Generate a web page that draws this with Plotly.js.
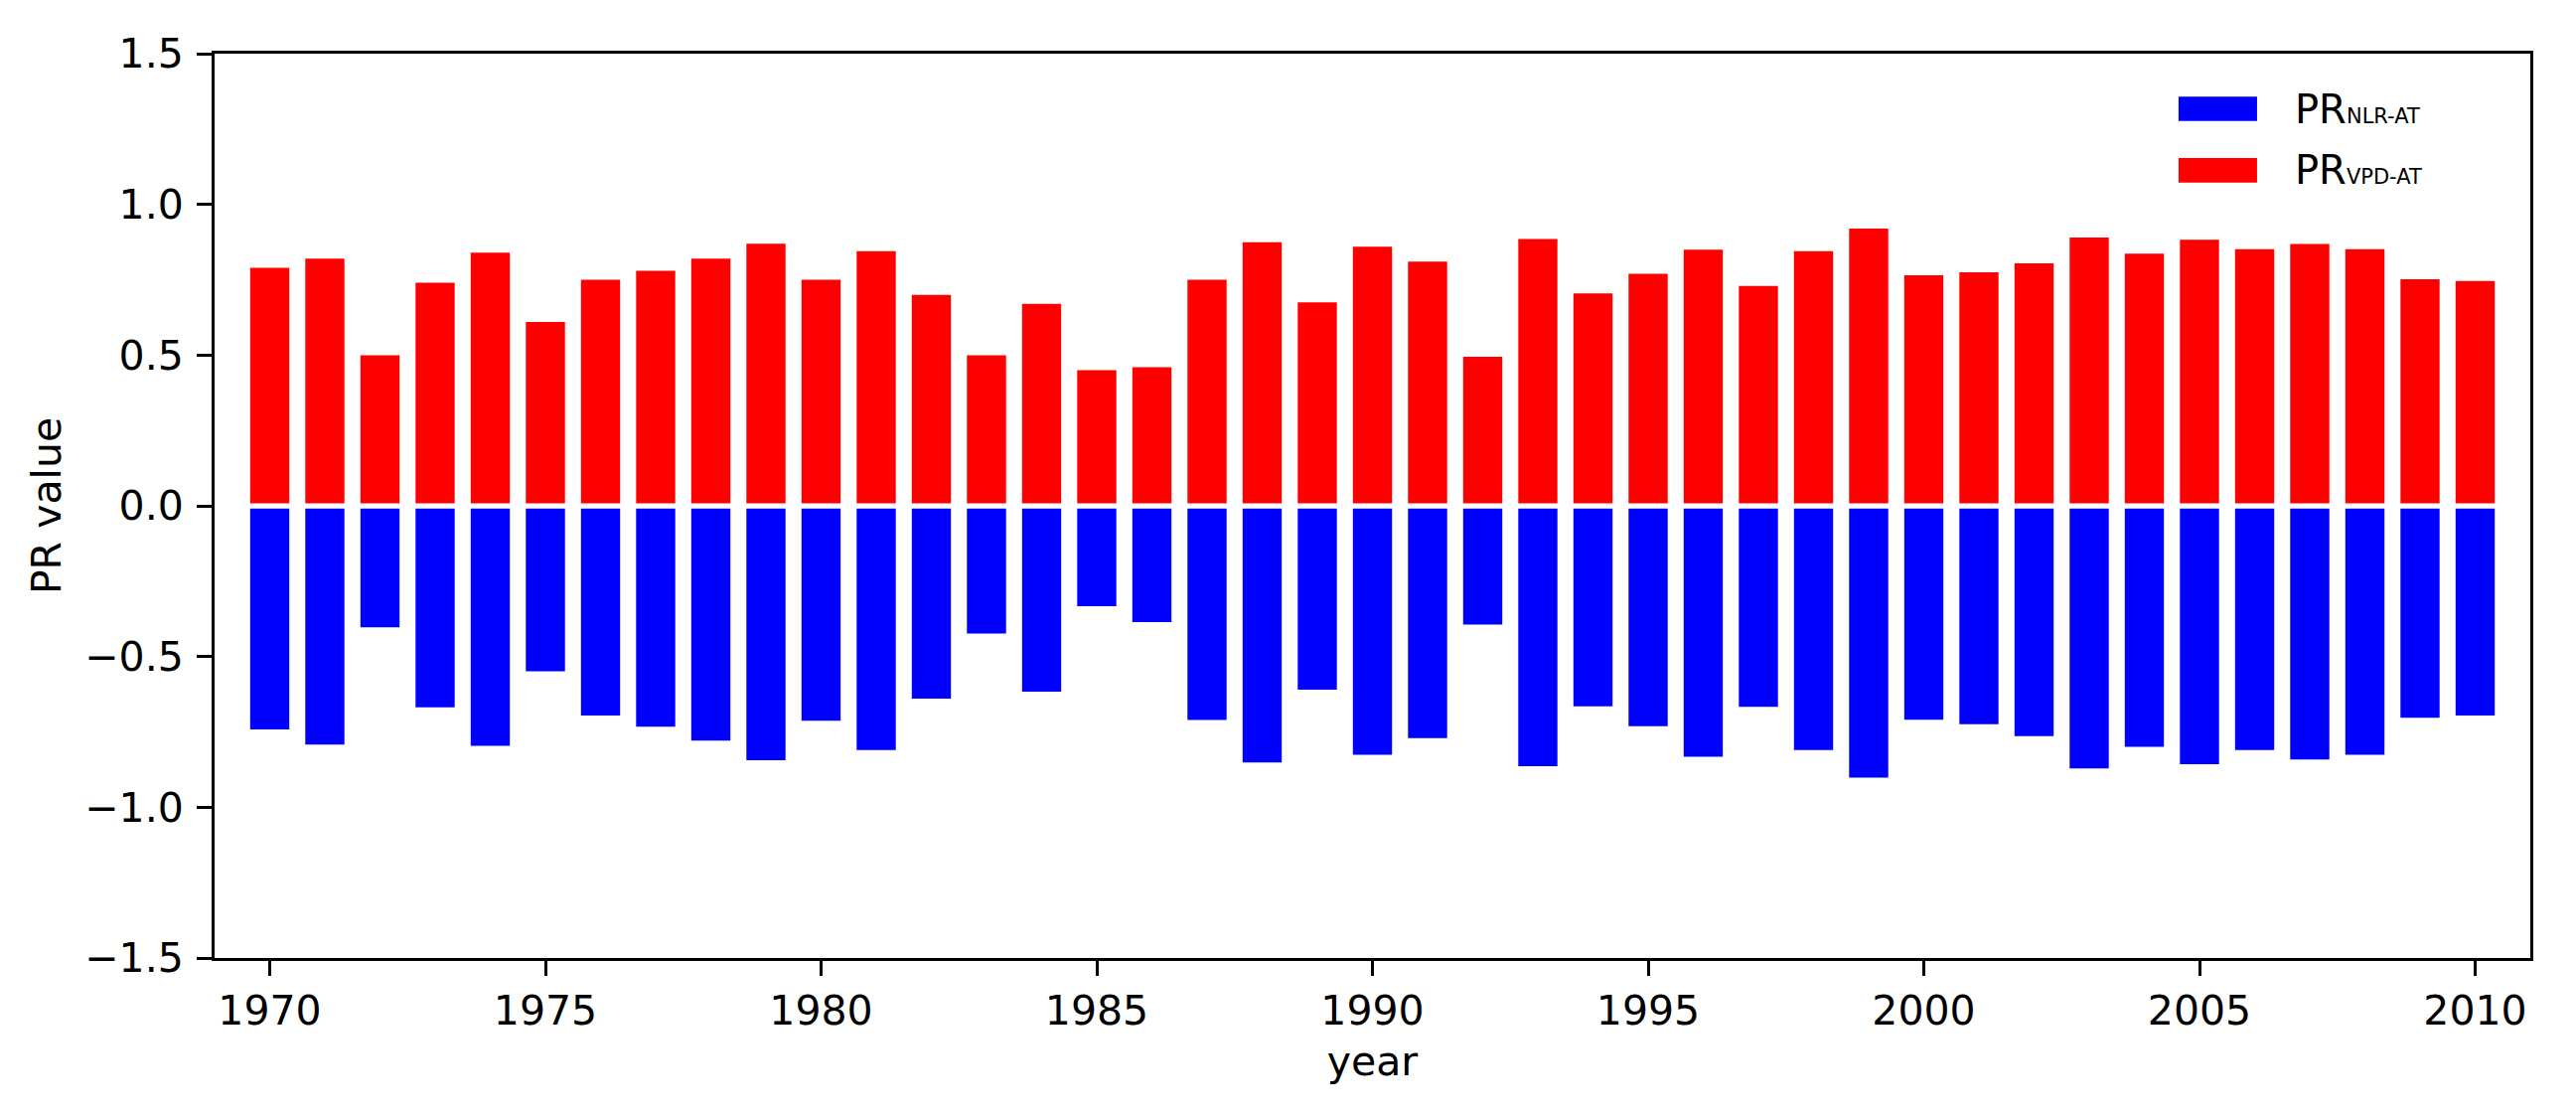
<!DOCTYPE html>
<html>
<head>
<meta charset="utf-8">
<script src="https://cdn.plot.ly/plotly-3.0.1.min.js"></script>
<style>
  html, body { margin: 0; padding: 0; background: #fff; }
  #chart { width: 2593px; height: 1124px; }
</style>
</head>
<body>
<div id="chart"></div>
<script>
// ---- data ----
const years = [1970,1971,1972,1973,1974,1975,1976,1977,1978,1979,
               1980,1981,1982,1983,1984,1985,1986,1987,1988,1989,
               1990,1991,1992,1993,1994,1995,1996,1997,1998,1999,
               2000,2001,2002,2003,2004,2005,2006,2007,2008,2009,2010];

const prVPD = [0.798,0.828,0.508,0.748,0.848,0.618,0.758,0.788,0.828,0.878,
               0.758,0.853,0.708,0.508,0.678,0.458,0.468,0.758,0.883,0.683,
               0.868,0.818,0.503,0.893,0.713,0.778,0.858,0.738,0.853,0.928,
               0.773,0.783,0.813,0.898,0.845,0.891,0.860,0.877,0.860,0.760,0.754];

const prNLR = [-0.750,-0.800,-0.411,-0.677,-0.804,-0.557,-0.704,-0.741,-0.787,-0.852,
               -0.721,-0.818,-0.648,-0.432,-0.625,-0.341,-0.394,-0.719,-0.860,-0.618,
               -0.834,-0.779,-0.402,-0.872,-0.673,-0.739,-0.841,-0.675,-0.818,-0.910,
               -0.718,-0.733,-0.772,-0.879,-0.808,-0.865,-0.818,-0.850,-0.834,-0.711,-0.704];

const xTicks = [1970,1975,1980,1985,1990,1995,2000,2005,2010];
const yTicks = [-1.5,-1.0,-0.5,0.0,0.5,1.0,1.5];
const legendNames = ["NLR-AT", "VPD-AT"];
const colors = ["#0000ff", "#ff0000"];

const FONT = "DejaVu Sans";

const traces = [
  {
    type: "bar", x: years, y: prNLR, name: "PR" + legendNames[0],
    width: 0.8, marker: { color: colors[0], line: { color: "#ffffff", width: 5 } },
    showlegend: false, hoverinfo: "x+y"
  },
  {
    type: "bar", x: years, y: prVPD, name: "PR" + legendNames[1],
    width: 0.8, marker: { color: colors[1], line: { color: "#ffffff", width: 5 } },
    showlegend: false, hoverinfo: "x+y"
  }
];

// custom legend (wide matplotlib-like patches)
const legY = [0.939, 0.871];
const shapes = legY.map((yc, i) => ({
  type: "rect", xref: "paper", yref: "paper",
  x0: 0.8481, x1: 0.882, y0: yc - 0.0135, y1: yc + 0.0135,
  fillcolor: colors[i], line: { width: 0 }
}));
const annotations = legY.map((yc, i) => ({
  xref: "paper", yref: "paper", x: 0.8975, y: yc,
  xanchor: "left", yanchor: "middle", showarrow: false,
  text: "PR<span style='font-size:21px'>" + legendNames[i] + "</span>",
  font: { family: FONT, size: 40, color: "#000" }
}));

const layout = {
  width: 2593, height: 1124,
  margin: { l: 216, r: 46, t: 54, b: 160, pad: 0 },
  paper_bgcolor: "#ffffff", plot_bgcolor: "#ffffff",
  barmode: "overlay",
  font: { family: FONT, size: 41, color: "#000" },
  xaxis: {
    range: [1969, 2011],
    tickmode: "array", tickvals: xTicks, ticktext: xTicks.map(String),
    ticks: "outside", ticklen: 15, tickwidth: 3, tickcolor: "#000",
    showline: true, linecolor: "#000", linewidth: 3, mirror: true,
    showgrid: false, zeroline: false,
    tickfont: { family: FONT, size: 41, color: "#000" },
    title: { text: "year", font: { family: FONT, size: 41, color: "#000" }, standoff: 14 }
  },
  yaxis: {
    range: [-1.5, 1.5],
    tickmode: "array", tickvals: yTicks, ticktext: yTicks.map(v => (v < 0 ? "\u2212" : "") + Math.abs(v).toFixed(1)),
    ticks: "outside", ticklen: 15, tickwidth: 3, tickcolor: "#000",
    ticklabelstandoff: 5,
    showline: true, linecolor: "#000", linewidth: 3, mirror: true,
    showgrid: false, zeroline: false,
    tickfont: { family: FONT, size: 41, color: "#000" },
    title: { text: "PR value", font: { family: FONT, size: 41, color: "#000" }, standoff: 11 }
  },
  shapes: shapes,
  annotations: annotations
};

Plotly.newPlot("chart", traces, layout, { displayModeBar: false, staticPlot: true });
</script>
</body>
</html>
